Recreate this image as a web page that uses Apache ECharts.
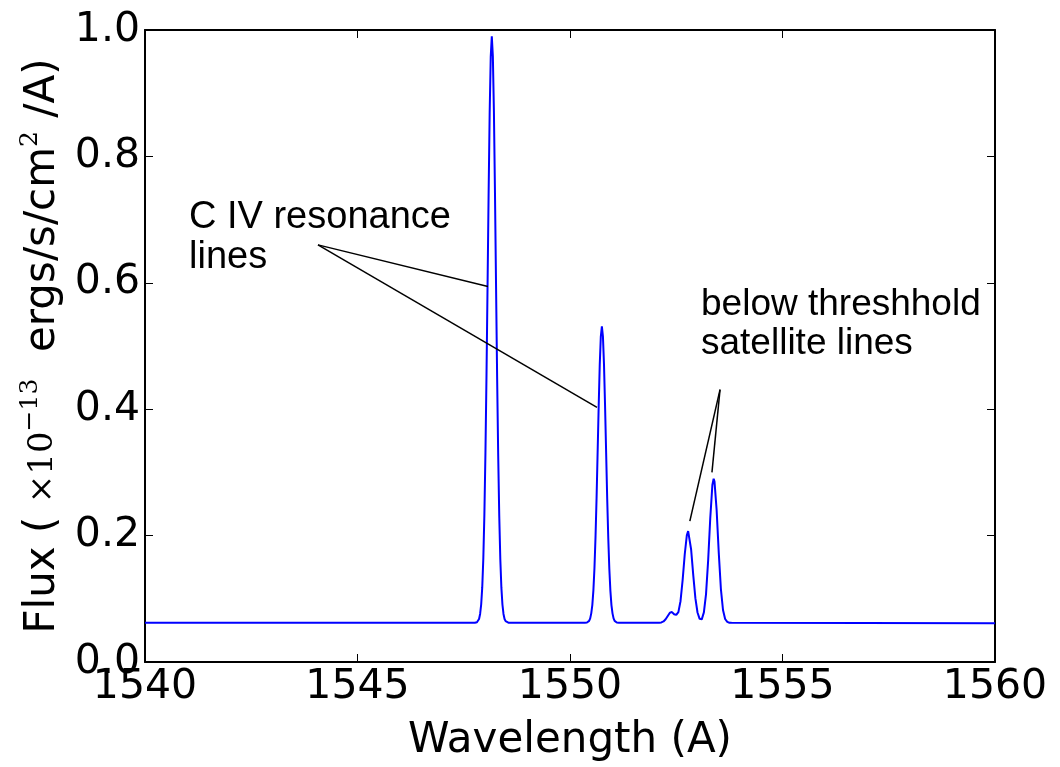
<!DOCTYPE html>
<html>
<head>
<meta charset="utf-8">
<script src="https://cdn.jsdelivr.net/npm/echarts@6/dist/echarts.min.js"></script>
<style>
html,body{margin:0;padding:0;background:#fff;}
#chart{width:1060px;height:767px;}
</style>
</head>
<body>
<div id="chart"></div>
<script>
// ---- Data ----
const wavelength = [
  1540.00, 1547.70,
  1547.76, 1547.81, 1547.835, 1547.86, 1547.885, 1547.91, 1547.935, 1547.96, 1547.985, 1548.01,
  1548.035, 1548.06, 1548.085, 1548.11, 1548.135, 1548.16, 1548.185, 1548.21, 1548.235, 1548.26,
  1548.285, 1548.31, 1548.335, 1548.36, 1548.385, 1548.41, 1548.435, 1548.46, 1548.485, 1548.51, 1548.56,
  1550.35, 1550.40, 1550.425, 1550.45, 1550.475, 1550.50, 1550.525, 1550.55, 1550.575, 1550.60,
  1550.625, 1550.65, 1550.675, 1550.70, 1550.725, 1550.75, 1550.775, 1550.80, 1550.825, 1550.85,
  1550.875, 1550.90, 1550.925, 1550.95, 1550.975, 1551.00, 1551.025, 1551.05, 1551.075, 1551.10, 1551.15,
  1552.00, 1552.10, 1552.15, 1552.20, 1552.25, 1552.30, 1552.35, 1552.40, 1552.45, 1552.50,
  1552.55, 1552.60, 1552.65, 1552.70, 1552.75, 1552.78, 1552.80, 1552.85, 1552.90, 1552.95,
  1553.00, 1553.05, 1553.10, 1553.15, 1553.20, 1553.25, 1553.30, 1553.35, 1553.38, 1553.40,
  1553.45, 1553.50, 1553.55, 1553.60, 1553.65, 1553.70, 1553.75, 1553.80,
  1560.00
];
const flux = [
  0.0620, 0.0620,
  0.0620, 0.0630, 0.0647, 0.0680, 0.0760, 0.0910, 0.1180, 0.1630, 0.2320, 0.3290,
  0.4525, 0.5950, 0.7410, 0.8700, 0.9580, 0.9900, 0.9580, 0.8700, 0.7410, 0.5950,
  0.4525, 0.3290, 0.2320, 0.1630, 0.1180, 0.0910, 0.0760, 0.0680, 0.0647, 0.0630, 0.0620,
  0.0620, 0.0625, 0.0634, 0.0650, 0.0690, 0.0770, 0.0900, 0.1130, 0.1480, 0.1970,
  0.2590, 0.3320, 0.4050, 0.4705, 0.5150, 0.5310, 0.5150, 0.4705, 0.4050, 0.3320,
  0.2590, 0.1970, 0.1480, 0.1130, 0.0900, 0.0770, 0.0690, 0.0650, 0.0634, 0.0625, 0.0620,
  0.0620, 0.0621, 0.0626, 0.0642, 0.0676, 0.0728, 0.0780, 0.0790, 0.0755, 0.0745,
  0.0790, 0.0962, 0.1296, 0.1705, 0.2010, 0.2070, 0.2044, 0.1780, 0.1375, 0.1010,
  0.0783, 0.0683, 0.0675, 0.0785, 0.1071, 0.1600, 0.2275, 0.2800, 0.2900, 0.2855,
  0.2405, 0.1730, 0.1158, 0.0823, 0.0680, 0.0634, 0.0622, 0.0620,
  0.0615
];
const xTicks = [1540, 1545, 1550, 1555, 1560];
const yTicks = [0.0, 0.2, 0.4, 0.6, 0.8, 1.0];

// annotation texts and pointer segments [from, to] in data coordinates
const resonanceText = 'C IV resonance\nlines';
const satelliteText = 'below threshhold\nsatellite lines';
const resonancePointers = [
  [[1544.07, 0.660], [1548.07, 0.594]],
  [[1544.07, 0.660], [1550.635, 0.403]]
];
const satellitePointers = [
  [[1553.53, 0.431], [1552.82, 0.223]],
  [[1553.53, 0.431], [1553.34, 0.300]]
];

// ---- Chart ----
const chart = echarts.init(document.getElementById('chart'), null, {renderer: 'canvas'});
const seriesData = wavelength.map((w, i) => [w, flux[i]]);
const pointerData = resonancePointers.concat(satellitePointers).map(seg => [
  {coord: seg[0]}, {coord: seg[1]}
]);

const tickFont = {fontFamily: 'DejaVu Sans', fontSize: 41, color: '#000'};
const commonX = {
  type: 'value', min: xTicks[0], max: xTicks[xTicks.length - 1], interval: 5,
  splitLine: {show: false},
  axisLine: {show: true, onZero: false, lineStyle: {color: '#000', width: 2}},
  axisTick: {show: true, inside: true, length: 8, lineStyle: {color: '#000', width: 1}}
};
const commonY = {
  type: 'value', min: yTicks[0], max: yTicks[yTicks.length - 1], interval: 0.2,
  splitLine: {show: false},
  axisLine: {show: true, onZero: false, lineStyle: {color: '#000', width: 2}},
  axisTick: {show: true, inside: true, length: 8, lineStyle: {color: '#000', width: 1}}
};

const option = {
  backgroundColor: '#fff',
  animation: false,
  grid: {left: 145, right: 65, top: 30, bottom: 104, containLabel: false},
  xAxis: [
    Object.assign({}, commonX, {
      position: 'bottom',
      name: 'Wavelength (A)', nameLocation: 'middle', nameGap: 58,
      nameTextStyle: {fontFamily: 'DejaVu Sans', fontSize: 42, color: '#000'},
      axisLabel: Object.assign({margin: 5, formatter: v => String(v)}, tickFont)
    }),
    Object.assign({}, commonX, {position: 'top', axisLabel: {show: false}})
  ],
  yAxis: [
    Object.assign({}, commonY, {
      position: 'left',
      name: '{a|Flux ( }{m|×10}{s|−13}{a|  ergs/s/cm}{t|2}{a| /A)}',
      nameLocation: 'middle', nameGap: 70, nameRotate: 90,
      nameTextStyle: {
        color: '#000',
        padding: [0, 0, 0, 0],
        rich: {
          a: {fontFamily: 'DejaVu Sans', fontSize: 42, lineHeight: 50, color: '#000'},
          m: {fontFamily: 'DejaVu Serif', fontSize: 34, lineHeight: 50, color: '#000'},
          s: {fontFamily: 'DejaVu Serif', fontSize: 25, lineHeight: 26, verticalAlign: 'top', color: '#000'},
          t: {fontFamily: 'DejaVu Serif', fontSize: 25, lineHeight: 26, verticalAlign: 'top', color: '#000'}
        }
      },
      axisLabel: Object.assign({margin: 5, formatter: v => v.toFixed(1)}, tickFont)
    }),
    Object.assign({}, commonY, {position: 'right', axisLabel: {show: false}})
  ],
  series: [{
    type: 'line',
    xAxisIndex: 0, yAxisIndex: 0,
    data: seriesData,
    showSymbol: false,
    symbol: 'none',
    smooth: false,
    lineStyle: {color: '#0000ff', width: 2},
    z: 3,
    markLine: {
      silent: true,
      symbol: ['none', 'none'],
      label: {show: false},
      lineStyle: {color: '#000', width: 1.5, type: 'solid'},
      emphasis: {disabled: true},
      data: pointerData
    }
  }],
  graphic: [
    {
      type: 'text', left: 189, top: 198, z: 10,
      style: {text: resonanceText, font: '38px "Liberation Sans"', fill: '#000', lineHeight: 40}
    },
    {
      type: 'text', left: 701, top: 285, z: 10,
      style: {text: satelliteText, font: '37px "Liberation Sans"', fill: '#000', lineHeight: 39}
    }
  ]
};
chart.setOption(option);
</script>
</body>
</html>
